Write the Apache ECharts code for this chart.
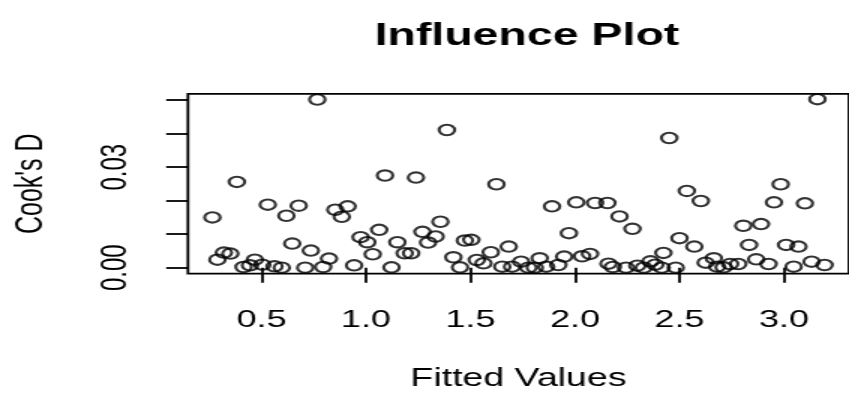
<!DOCTYPE html>
<html>
<head>
<meta charset="utf-8">
<script src="https://cdn.jsdelivr.net/npm/echarts@6/dist/echarts.min.js"></script>
<style>
  html, body { margin: 0; padding: 0; background: #fff; overflow: hidden; }
  /* the source image is stretched sideways, so draw narrow and widen */
  #chart { width: 566px; height: 401px; transform: scaleX(1.5); transform-origin: 0 0; }
</style>
</head>
<body>
<div id="chart"></div>
<script>
var fittedValues = [
  0.265, 0.289, 0.320, 0.351, 0.382, 0.414, 0.445, 0.468, 0.504, 0.530,
  0.562, 0.597, 0.619, 0.647, 0.678, 0.709, 0.736, 0.767, 0.795, 0.823,
  0.853, 0.884, 0.912, 0.943, 0.974, 1.006, 1.032, 1.063, 1.091, 1.122,
  1.150, 1.185, 1.216, 1.239, 1.270, 1.297, 1.333, 1.356, 1.387, 1.418,
  1.450, 1.473, 1.504, 1.530, 1.562, 1.597, 1.624, 1.652, 1.683, 1.699,
  1.742, 1.777, 1.808, 1.831, 1.862, 1.890, 1.920, 1.948, 1.971, 2.006,
  2.034, 2.072, 2.096, 2.155, 2.160, 2.181, 2.213, 2.244, 2.275, 2.298,
  2.329, 2.361, 2.384, 2.415, 2.423, 2.451, 2.482, 2.500, 2.535, 2.571,
  2.602, 2.625, 2.664, 2.680, 2.711, 2.742, 2.781, 2.805, 2.833, 2.867,
  2.890, 2.926, 2.952, 2.984, 3.010, 3.046, 3.069, 3.100, 3.132, 3.160,
  3.194
];
var cooksD = [
  0.0150, 0.0024, 0.0045, 0.0042, 0.0256, 0.0002, 0.0007, 0.0024, 0.0009, 0.0188,
  0.0004, 0.0000, 0.0155, 0.0072, 0.0185, 0.0000, 0.0051, 0.0502, 0.0002, 0.0027,
  0.0173, 0.0152, 0.0183, 0.0007, 0.0091, 0.0076, 0.0040, 0.0113, 0.0275, 0.0001,
  0.0076, 0.0043, 0.0043, 0.0269, 0.0107, 0.0075, 0.0093, 0.0137, 0.0411, 0.0031,
  0.0001, 0.0081, 0.0083, 0.0023, 0.0013, 0.0046, 0.0249, 0.0003, 0.0063, 0.0003,
  0.0018, 0.0000, 0.0000, 0.0028, 0.0003, 0.0183, 0.0008, 0.0033, 0.0103, 0.0195,
  0.0034, 0.0041, 0.0193, 0.0193, 0.0012, 0.0002, 0.0153, 0.0000, 0.0116, 0.0006,
  0.0000, 0.0019, 0.0009, 0.0000, 0.0044, 0.0387, 0.0000, 0.0088, 0.0229, 0.0063,
  0.0199, 0.0015, 0.0028, 0.0003, 0.0001, 0.0011, 0.0011, 0.0125, 0.0068, 0.0025,
  0.0130, 0.0011, 0.0195, 0.0249, 0.0068, 0.0003, 0.0063, 0.0192, 0.0018, 0.0503,
  0.0008
];
var xTicks = [0.5, 1.0, 1.5, 2.0, 2.5, 3.0];
var yTicks = [0.00, 0.01, 0.02, 0.03, 0.04, 0.05];
var yLabels = [0.00, 0.03];

var points = [];
for (var i = 0; i < fittedValues.length; i++) {
  points.push([fittedValues[i], cooksD[i]]);
}

var font = '"Liberation Sans", Arial, Helvetica, sans-serif';
var chart = echarts.init(document.getElementById('chart'));

option = {
  animation: false,
  title: {
    text: 'Influence Plot',
    left: 351.3,
    top: 21,
    padding: 0,
    textAlign: 'center',
    textStyle: { fontFamily: font, fontSize: 31, fontWeight: 'bold', color: '#000' }
  },
  grid: {
    left: 125.3,
    top: 93.8,
    width: 451.2,
    height: 179.9,
    show: true,
    borderColor: '#000',
    borderWidth: 1.8,
    backgroundColor: 'transparent'
  },
  xAxis: {
    type: 'value',
    min: 0.148,
    max: 3.311,
    name: 'Fitted Values',
    nameLocation: 'middle',
    nameGap: 93,
    nameTextStyle: { fontFamily: font, fontSize: 25, color: '#000', verticalAlign: 'top' },
    axisLine: { show: false },
    splitLine: { show: false },
    axisTick: {
      show: true, inside: false, length: 15,
      customValues: xTicks,
      lineStyle: { color: '#000', width: 1.8 }
    },
    axisLabel: {
      customValues: xTicks,
      margin: 35,
      fontFamily: font, fontSize: 24, color: '#000',
      formatter: function (v) { return v.toFixed(1); }
    }
  },
  yAxis: {
    type: 'value',
    min: -0.0018,
    max: 0.0519,
    name: "Cook's D",
    nameLocation: 'middle',
    nameGap: 92,
    nameTextStyle: { fontFamily: font, fontSize: 25, color: '#000' },
    axisLine: { show: false },
    splitLine: { show: false },
    axisTick: {
      show: true, inside: false, length: 14.5,
      customValues: yTicks,
      lineStyle: { color: '#000', width: 1.8 }
    },
    axisLabel: {
      customValues: yLabels,
      rotate: 90,
      margin: 36,
      fontFamily: font, fontSize: 24, color: '#000',
      formatter: function (v) { return v.toFixed(2); }
    }
  },
  series: [
    {
      type: 'scatter',
      data: points,
      symbol: 'circle',
      symbolSize: 10.4,
      itemStyle: { color: 'rgba(0,0,0,0)', borderColor: '#000', borderWidth: 2.1 },
      emphasis: { disabled: true }
    }
  ]
};

chart.setOption(option);
</script>
</body>
</html>
